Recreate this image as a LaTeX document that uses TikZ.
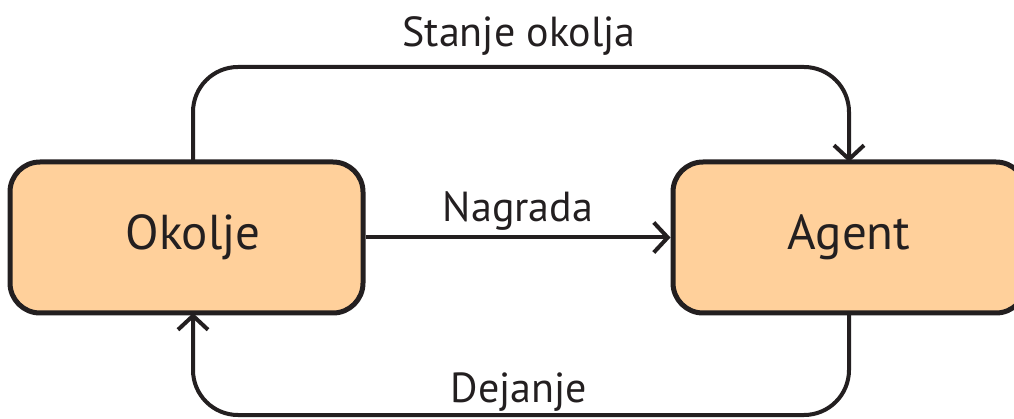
\documentclass[tikz,border=0pt]{standalone}
\usepackage{fontspec}
\setmainfont{PT Sans}
\usetikzlibrary{arrows.meta}
\definecolor{ink}{HTML}{231F20}
\definecolor{peach}{HTML}{FFD09B}
\tikzset{
  box/.style={draw=ink, fill=peach, line width=5pt, rounded corners=30pt, minimum width=353pt, minimum height=151pt, inner sep=0pt},
  boxtext/.style={text=ink, font=\fontsize{49}{55}\selectfont, inner sep=0pt},
  conn/.style={draw=ink, line width=4pt, -{Straight Barb[length=14pt, width=30pt, line width=4pt]}},
  lbl/.style={font=\fontsize{42}{48}\selectfont, text=ink, anchor=base, inner sep=0pt}
}
\begin{document}
\begin{tikzpicture}[x=1pt,y=1pt]
\useasboundingbox (0,0) rectangle (1014,-419);
\clip (0,0) rectangle (1014,-419);
\node[box] (ok) at (186.5,-237.5) {};
\node[box] (ag) at (849.5,-237.5) {};
\node[boxtext] (okt) at (193,-237.5) {Okolje};
\node[boxtext] (agt) at (849,-237.5) {Agent};
\coordinate (okT) at (193,-162);
\coordinate (okB) at (193,-313);
\coordinate (agT) at (849,-162);
\coordinate (agB) at (849,-313);
\coordinate (top) at (0,-67);
\coordinate (bot) at (0,-415);
\draw[conn, rounded corners=45pt] (okT) -- (okT |- top) -- (agT |- top) -- (agT);
\draw[conn, rounded corners=45pt] (agB) -- (agB |- bot) -- (okB |- bot) -- (okB);
\draw[conn] (ok.east) -- (ag.west);
\node[lbl] (l1) at (519,-47) {Stanje okolja};
\node[lbl] (l2) at (518,-222) {Nagrada};
\node[lbl] (l3) at (519,-402) {Dejanje};
\end{tikzpicture}
\end{document}
